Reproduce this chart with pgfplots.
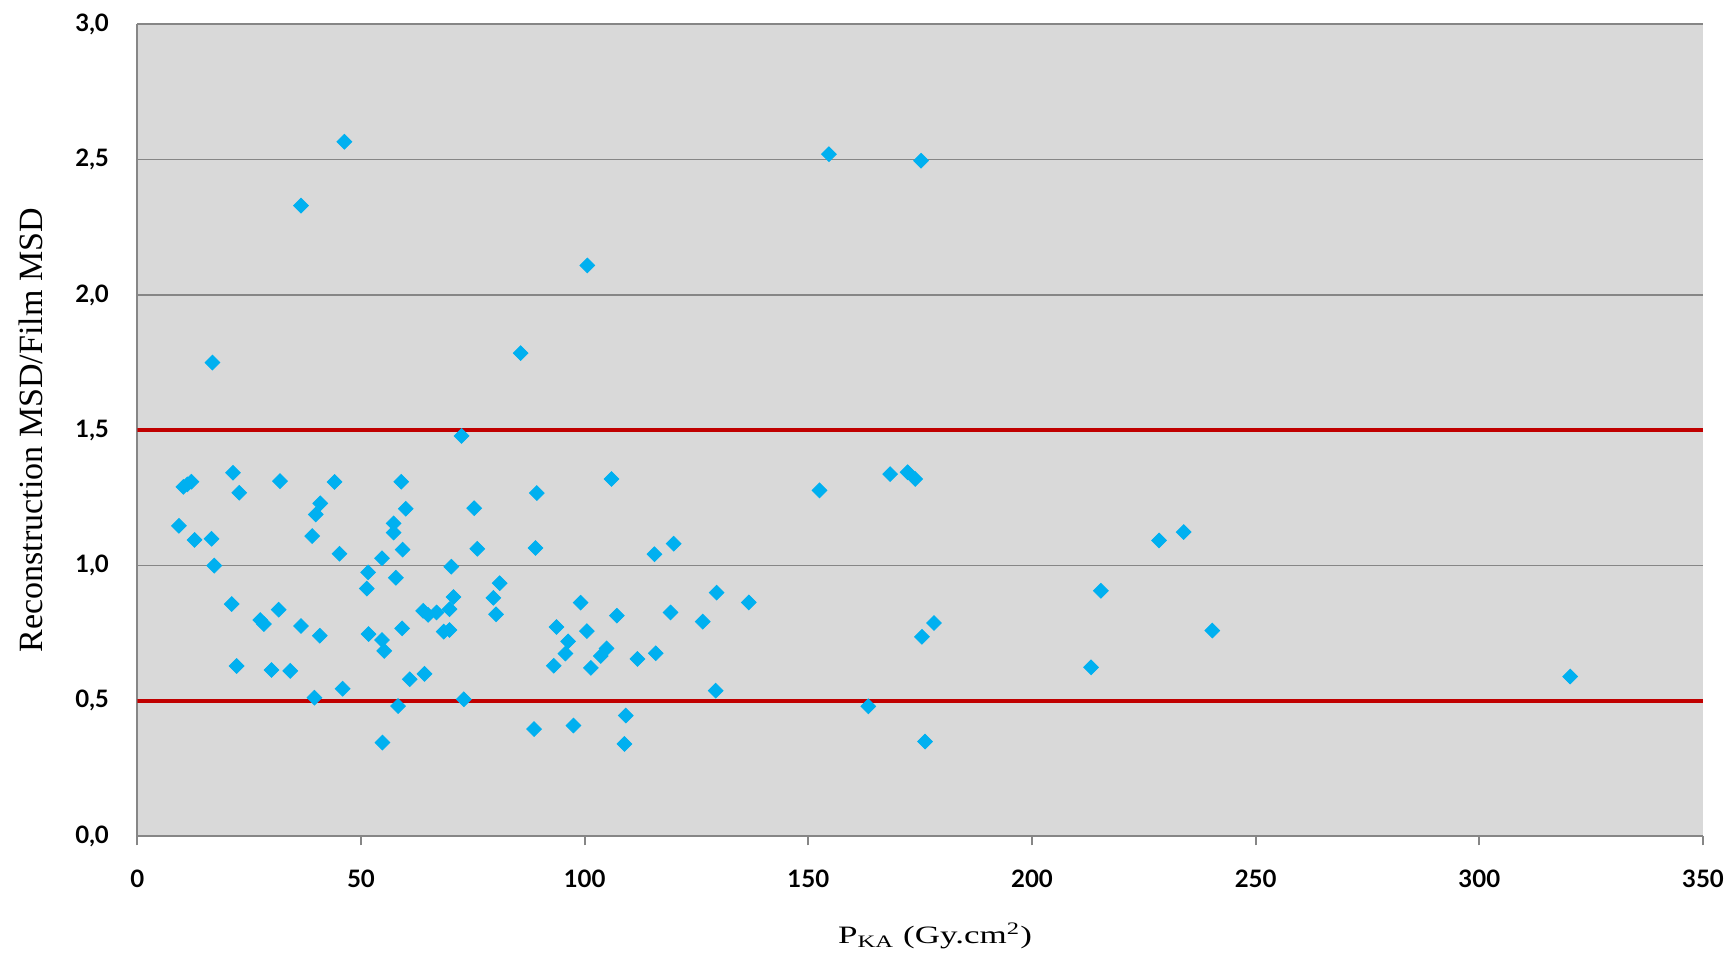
\documentclass[border=0pt]{standalone}
\usepackage{fontspec}
\setmainfont{Liberation Serif}
\newfontfamily\tickfont{Lato}
\usepackage{pgfplots}
\pgfplotsset{compat=1.18}

\definecolor{plotbg}{HTML}{D9D9D9}
\definecolor{gridgray}{HTML}{868686}
\definecolor{limitred}{HTML}{C00000}
\definecolor{dotblue}{HTML}{00B0F0}

\begin{document}
\begin{tikzpicture}
\begin{axis}[
    name=ax,
    at={(0,0)}, anchor=south west,
    scale only axis,
    width=782.9pt, height=406pt,
    xmin=0, xmax=350, ymin=0, ymax=3,
    xtick={0,50,...,350},
    ytick={0,0.5,...,3},
    axis x line=bottom, axis y line=left,
    axis line style={-, draw=gridgray, line width=1pt},
    axis background/.style={fill=plotbg},
    ymajorgrids,
    grid style={draw=gridgray, line width=0.8pt},
    tick align=outside,
    major tick length=4.5pt,
    xtick style={draw=gridgray, line width=1pt},
    ytick style={draw=none},
    /pgf/number format/assume math mode=true,
    ticklabel style={font=\tickfont\bfseries\fontsize{12}{12}\selectfont, inner sep=0pt},
    yticklabel style={xshift=-9.5pt,
        /pgf/number format/.cd, fixed, fixed zerofill, precision=1, use comma},
    xticklabel style={yshift=-12pt},
    xlabel={\fontsize{12.5}{13}\selectfont\scalebox{1.4}[1]{P\textsubscript{KA} (Gy.cm\textsuperscript{2})}},
    xlabel style={at={(axis description cs:0.5,0)}, anchor=center, yshift=-50pt, xshift=7.5pt},
    ylabel={\fontsize{17}{17}\selectfont Reconstruction MSD/Film MSD},
    ylabel style={at={(axis description cs:0,0.5)}, anchor=center, yshift=53pt},
]
\addplot[limitred, line width=2pt, forget plot] coordinates {(0,0.5) (350,0.5)};
\addplot[limitred, line width=2pt, forget plot] coordinates {(0,1.5) (350,1.5)};
\addplot[only marks, mark=square*, mark size=2.6pt,
    mark options={rotate=45, fill=dotblue, draw=dotblue}] coordinates {
(9.3,1.147) (10.3,1.291) (11.2,1.300) (12.1,1.310) (12.8,1.095)
(16.6,1.099) (16.8,1.750) (17.2,1.000) (21.1,0.858) (21.4,1.343)
(22.2,0.629) (22.8,1.269) (27.5,0.799) (28.3,0.784) (30.0,0.614)
(31.6,0.837) (31.9,1.312) (34.2,0.611) (36.6,0.777) (36.6,2.330)
(39.1,1.109) (39.6,0.512) (39.9,1.189) (40.8,0.741) (40.9,1.230)
(44.1,1.309) (45.2,1.044) (45.9,0.545) (46.3,2.566) (51.3,0.915)
(51.6,0.975) (51.7,0.747) (54.7,1.027) (54.7,0.725) (54.8,0.346)
(55.2,0.685) (57.3,1.156) (57.3,1.122) (57.8,0.955) (58.3,0.481)
(59.0,1.310) (59.2,0.768) (59.3,1.059) (60.0,1.210) (60.9,0.580)
(63.9,0.833) (64.2,0.600) (65.0,0.818) (66.9,0.827) (68.5,0.756)
(69.8,0.762) (69.8,0.839) (70.2,0.996) (70.7,0.884) (72.5,1.479)
(73.0,0.506) (75.3,1.212) (76.0,1.062) (79.6,0.881) (80.2,0.820)
(81.0,0.935) (85.7,1.785) (88.7,0.396) (89.0,1.065) (89.3,1.268)
(93.1,0.630) (93.7,0.773) (95.7,0.675) (96.3,0.720) (97.5,0.409)
(99.1,0.863) (100.5,0.758) (100.6,2.109) (101.4,0.622) (103.6,0.666)
(104.9,0.694) (106.0,1.320) (107.2,0.815) (108.9,0.341) (109.2,0.446)
(111.8,0.655) (115.6,1.042) (115.9,0.676) (119.2,0.827) (119.9,1.081)
(126.4,0.793) (129.3,0.538) (129.5,0.900) (136.7,0.864) (152.5,1.278)
(154.6,2.520) (163.4,0.480) (168.3,1.338) (172.2,1.345) (173.9,1.320)
(175.2,2.496) (175.4,0.737) (176.1,0.350) (178.1,0.788) (213.2,0.624)
(215.4,0.907) (228.4,1.093) (233.9,1.124) (240.3,0.760) (320.3,0.590)
};
\end{axis}
\pgfresetboundingbox
\path[use as bounding box] ([xshift=-68.65pt,yshift=-60.35pt]ax.south west)
    rectangle ([xshift=14pt,yshift=12.15pt]ax.north east);
\end{tikzpicture}
\end{document}
